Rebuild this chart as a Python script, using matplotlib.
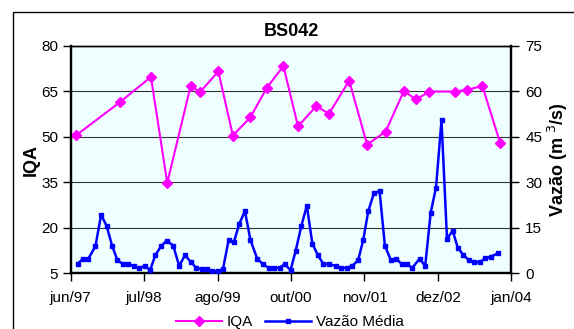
import numpy as np
import pandas as pd

import matplotlib
matplotlib.use('Agg')

import matplotlib.pyplot as plt
import matplotlib.dates as mdates
from matplotlib.patches import Rectangle

plt.rcParams['font.family'] = ['Liberation Sans', 'DejaVu Sans']

# dias desde 01/06/1997
base = pd.Timestamp('1997-06-01')

iqa_dias = [30, 267, 438, 527, 655, 705, 806, 885, 981, 1070, 1161, 1241,
            1340, 1410, 1520, 1618, 1719, 1818, 1887, 1957, 2098, 2163, 2247, 2344]
iqa = [50.5, 61.3, 69.7, 34.8, 66.8, 64.7, 71.5, 50.4, 56.4, 66.1, 73.3, 53.4,
       60.1, 57.6, 68.5, 47.4, 51.7, 65.0, 62.3, 64.9, 64.9, 65.5, 66.7, 48.0]

vazao_dias = [38, 67, 96, 135, 166, 196, 227, 255, 284, 314, 344, 374,
              404, 434, 462, 493, 524, 560, 592, 624, 654, 684, 714, 744,
              774, 803, 831, 862, 891, 920, 951, 981, 1018, 1050, 1080, 1110,
              1140, 1169, 1200, 1228, 1259, 1289, 1319, 1348, 1379, 1409, 1447, 1476,
              1506, 1536, 1569, 1597, 1624, 1655, 1686, 1715, 1747, 1777, 1806, 1834,
              1864, 1905, 1935, 1965, 1994, 2024, 2054, 2085, 2113, 2144, 2174, 2204,
              2233, 2263, 2293, 2333]
vazao = [3.1, 4.8, 4.8, 8.9, 19.3, 15.6, 8.9, 4.3, 3.1, 3.1, 2.4, 1.8,
         2.4, 1.1, 6.0, 8.9, 10.8, 9.1, 2.4, 6.0, 3.8, 1.9, 1.3, 1.3,
         0.8, 0.7, 1.3, 11.0, 10.3, 16.3, 20.5, 11.0, 4.8, 3.0, 1.8, 1.8,
         1.8, 3.0, 1.0, 7.4, 15.6, 22.3, 9.8, 6.1, 3.1, 3.1, 2.4, 1.8,
         1.8, 2.4, 4.3, 11.0, 20.4, 26.4, 27.1, 9.1, 4.4, 4.8, 3.1, 3.1,
         1.8, 4.8, 2.4, 20.0, 28.2, 50.4, 11.4, 14.0, 8.4, 6.0, 4.3, 3.7,
         3.7, 4.9, 5.5, 6.6]

x_labels = ['jun/97', 'jul/98', 'ago/99', 'out/00', 'nov/01', 'dez/02', 'jan/04']
iqa_ticks = [5, 20, 35, 50, 65, 80]
vazao_ticks = [0, 15, 30, 45, 60, 75]

x_iqa = mdates.date2num(base + pd.to_timedelta(iqa_dias, unit='D'))
x_vaz = mdates.date2num(base + pd.to_timedelta(vazao_dias, unit='D'))
x0 = mdates.date2num(base)
x1 = mdates.date2num(pd.Timestamp('2004-01-01'))

fig = plt.figure(figsize=(5.74, 3.29), dpi=100)
fig.patches.append(Rectangle((12.5 / 574, -0.1), 1.0, (329 - 11.7) / 329 + 0.1,
                             transform=fig.transFigure, fill=False,
                             edgecolor='black', linewidth=1.0))

ax = fig.add_axes([70.7 / 574, 55.7 / 329, 440.6 / 574, 227.6 / 329])
ax.set_facecolor('#EFFFFF')
ax2 = ax.twinx()

l1, = ax.plot(x_iqa, iqa, color='#FF00FF', marker='D', markersize=5,
              linewidth=1.5, label='IQA', zorder=3)
l2, = ax2.plot(x_vaz, vazao, color='#0000FF', marker='s', markersize=3.5,
               linewidth=1.8, label='Vazão Média', zorder=3)

ax.set_ylim(5, 80)
ax.set_yticks(iqa_ticks)
ax2.set_ylim(0, 75)
ax2.set_yticks(vazao_ticks)
ax.set_xlim(x0, x1)
ax.set_xticks(np.linspace(x0, x1, len(x_labels)))
ax.set_xticklabels(x_labels)

ax.yaxis.grid(True, color='#333333', linewidth=0.8)
ax.set_axisbelow(True)

for a in (ax, ax2):
    a.tick_params(direction='out', length=6, width=1, labelsize=11, colors='black')
    for loc in ['left', 'right', 'bottom']:
        a.spines[loc].set_linewidth(1.6)
    a.spines['top'].set_linewidth(1.0)
ax.tick_params(axis='y', pad=3)
ax2.tick_params(axis='y', pad=4)
ax.tick_params(axis='x', pad=7)

ax.set_title('BS042', fontsize=13, fontweight='bold', pad=7)
ax.set_ylabel('IQA', fontsize=13, fontweight='bold', labelpad=1)
ax2.set_ylabel('Vazão (m $^3$/s)', fontsize=13, fontweight='bold', labelpad=3)

fig.legend(handles=[l1, l2], loc='center', bbox_to_anchor=(0.505, 0.02),
           ncol=2, frameon=False, fontsize=11, handlelength=3.0,
           handletextpad=0.3, columnspacing=0.8, borderaxespad=0)

plt.savefig('out.png', dpi=100)
